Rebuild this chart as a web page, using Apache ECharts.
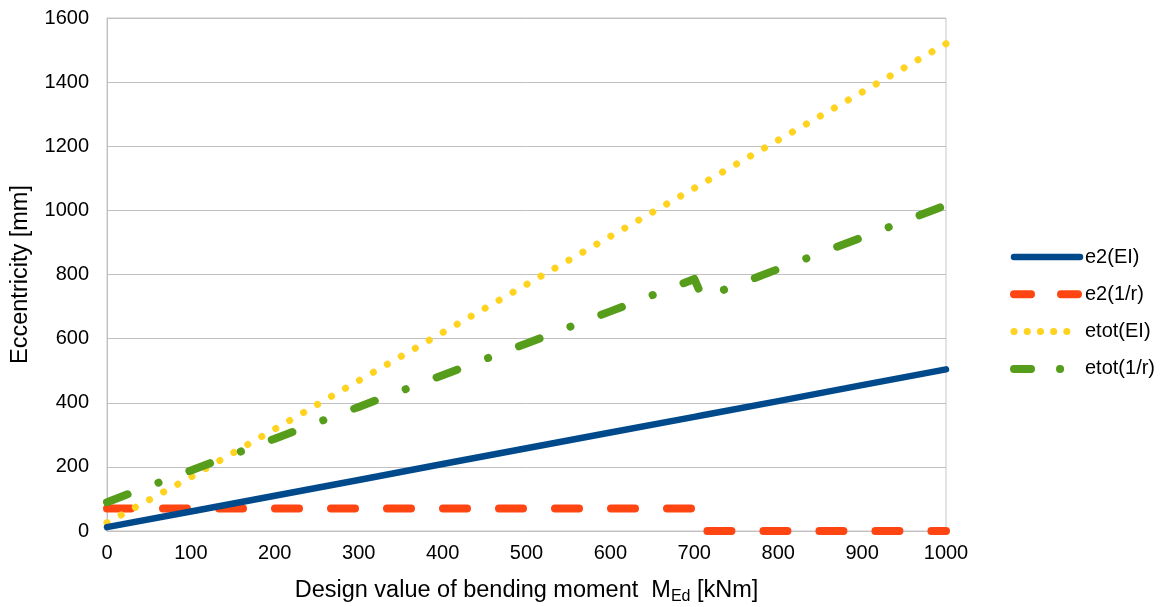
<!DOCTYPE html>
<html>
<head>
<meta charset="utf-8">
<script src="https://cdn.jsdelivr.net/npm/echarts@6/dist/echarts.min.js"></script>
<style>
  html, body { margin: 0; padding: 0; background: #fff; }
  #chart { width: 1164px; height: 607px; }
</style>
</head>
<body>
<div id="chart"></div>
<script>
// Bending moment M_Ed [kNm] at which the eccentricities are evaluated
const moments = [0, 100, 200, 300, 400, 500, 600, 700, 710, 800, 900, 1000];

// Eccentricities [mm]
const e2EI   = [12, 61, 110, 159, 209, 258, 307, 356, 361, 405, 455, 504];
const e2R    = [70, 70, 70, 70, 70, 70, 70, 70, 0, 0, 0, 0];
const etotEI = [26, 168, 318, 469, 619, 769, 919, 1069, 1084, 1219, 1369, 1520];
const etotR  = [90, 189, 288, 387, 486, 585, 685, 786, 727, 817, 916, 1016];

const seriesNames = ['e2(EI)', 'e2(1/r)', 'etot(EI)', 'etot(1/r)'];
const yTicks = { min: 0, max: 1600, step: 200 };
const xTicks = { min: 0, max: 1000, step: 100 };

const pairs = vals => moments.map((m, i) => [m, vals[i]]);

const font = 'Arial, "Liberation Sans", sans-serif';

// line looks: colour, width and dash pattern in the plot and in the legend key
const styles = [
  { color: '#004a8c', width: 6.5, type: 'solid', key: 'solid' },
  { color: '#ff4612', width: 8, type: [24, 32], key: [17, 30] },
  { color: '#ffd320', width: 7, type: [0.1, 16], key: [0.1, 13.1] },
  { color: '#579d1c', width: 8, type: [22, 33, 0.1, 33], key: [17, 29, 0.1, 40] }
];

const data = [e2EI, e2R, etotEI, etotR];

const chart = echarts.init(document.getElementById('chart'), null, { renderer: 'canvas' });

chart.setOption({
  backgroundColor: '#ffffff',
  animation: false,
  grid: {
    left: 107, right: 218, top: 18, bottom: 76,
    containLabel: false, outerBoundsMode: 'none',
    show: true, borderColor: '#c8c8c8', borderWidth: 1
  },
  legend: {
    orient: 'vertical',
    left: 1005,
    top: 242,
    itemWidth: 66,
    itemHeight: 14,
    itemGap: 17.3,
    textStyle: { fontFamily: font, fontSize: 20, color: '#000' },
    data: seriesNames.map((name, i) => ({
      name,
      itemStyle: { opacity: 0 },
      lineStyle: {
        color: styles[i].color,
        width: styles[i].width,
        type: styles[i].key,
        dashOffset: 0,
        cap: 'round'
      }
    }))
  },
  xAxis: {
    type: 'value',
    min: xTicks.min, max: xTicks.max, interval: xTicks.step,
    axisLine: { show: true, lineStyle: { color: '#c0c0c0', width: 1 } },
    axisTick: { show: false },
    splitLine: { show: false },
    axisLabel: { fontFamily: font, fontSize: 20, color: '#000', margin: 12, formatter: v => String(v) },
    name: 'Design value of bending moment  M{sub|Ed} [kNm]',
    nameLocation: 'middle',
    nameGap: 46,
    nameTextStyle: {
      fontFamily: font, fontSize: 23.5, color: '#000',
      rich: { sub: { fontFamily: font, fontSize: 16, color: '#000', padding: [12, 0, 0, 0] } }
    }
  },
  yAxis: {
    type: 'value',
    min: yTicks.min, max: yTicks.max, interval: yTicks.step,
    axisLine: { show: true, lineStyle: { color: '#c0c0c0', width: 1 } },
    axisTick: { show: false },
    splitLine: { show: true, lineStyle: { color: '#c0c0c0', width: 1 } },
    axisLabel: { fontFamily: font, fontSize: 20, color: '#000', margin: 18, formatter: v => String(v) },
    name: 'Eccentricity [mm]',
    nameLocation: 'middle',
    nameRotate: 90,
    nameGap: 74,
    nameTextStyle: { fontFamily: font, fontSize: 23.5, color: '#000' }
  },
  series: seriesNames.map((name, i) => ({
    name,
    type: 'line',
    data: pairs(data[i]),
    showSymbol: false,
    symbol: 'none',
    clip: true,
    z: 2 + (i === 0 ? 1 : 0),
    color: styles[i].color,
    lineStyle: { color: styles[i].color, width: styles[i].width, type: styles[i].type, cap: 'round', join: 'round' }
  }))
});
</script>
</body>
</html>
